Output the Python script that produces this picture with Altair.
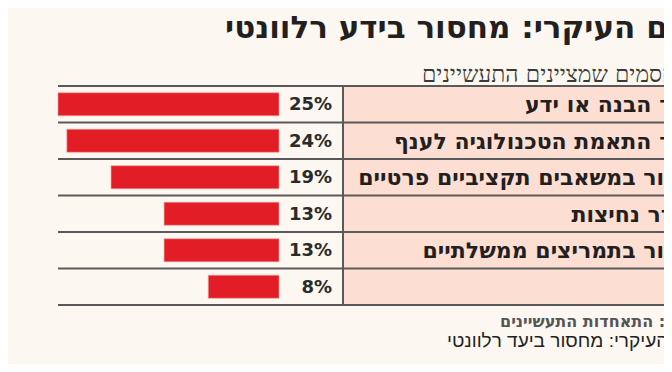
import altair as alt
import pandas as pd

# ---- data ----
categories = [
    "חוסר הבנה או ידע",
    "חוסר התאמת הטכנולוגיה לענף",
    "מחסור במשאבים תקציביים פרטיים",
    "היעדר נחיצות",
    "מחסור בתמריצים ממשלתיים",
    "אחר",
]
values = [25, 24, 19, 13, 13, 8]
row_lines = [0, 1, 2, 3, 4, 5, 6]

title_text = "החסם העיקרי: מחסור בידע רלוונטי"
subtitle_text = "באחוזים, החסמים שמציינים התעשיינים"
source_text = "נתונים: התאחדות התעשיינים"
caption_text = "החסם העיקרי: מחסור ביעד רלוונטי"

BG = "#FCF7F1"
PINK = "#FCDED2"
RED = "#E21D25"
DARK = "#231F20"
LINE = "#5A5A5A"

W, H = 656, 356

df = pd.DataFrame({"cat": categories, "val": values,
                   "pct": [f"{v}%" for v in values]})
lines_df = pd.DataFrame({"row": row_lines})
panel_df = pd.DataFrame({"r0": [0], "r1": [6]})

TOP, BOT = 78, 297
row_scale = alt.Scale(domain=[0, 6], range=[TOP, BOT])
band_scale = alt.Scale(domain=categories, range=[TOP, BOT],
                       paddingInner=0.37, paddingOuter=0.185)
x_scale = alt.Scale(domain=[0, 25], range=[271, 50])

panel = alt.Chart(panel_df).mark_rect(color=PINK).encode(
    x=alt.value(335), x2=alt.value(W),
    y=alt.Y("r0:Q", scale=row_scale, axis=None),
    y2="r1:Q",
)

hlines = alt.Chart(lines_df).mark_rule(color=LINE, strokeWidth=2).encode(
    x=alt.value(50), x2=alt.value(W),
    y=alt.Y("row:Q", scale=row_scale, axis=None),
)

vline = alt.Chart(panel_df).mark_rule(color=LINE, strokeWidth=2).encode(
    x=alt.value(335),
    y=alt.Y("r0:Q", scale=row_scale, axis=None),
    y2="r1:Q",
)

bars = alt.Chart(df).mark_bar(color=RED, stroke="#F0A0A0", strokeWidth=0.6).encode(
    x=alt.X("val:Q", scale=x_scale, axis=None),
    x2=alt.datum(0),
    y=alt.Y("cat:N", scale=band_scale, axis=None, sort=categories),
)

pct = alt.Chart(df).mark_text(
    align="right", baseline="middle", font="DejaVu Sans", fontWeight="bold",
    fontSize=18, color="#2A2A2A", dy=1,
).encode(
    x=alt.value(324),
    y=alt.Y("cat:N", scale=band_scale, axis=None, sort=categories),
    text="pct:N",
)

labels = alt.Chart(df).mark_text(
    align="right", baseline="middle", font="DejaVu Sans", fontWeight="bold",
    fontSize=22, color=DARK, dy=1,
).encode(
    x=alt.value(702),
    y=alt.Y("cat:N", scale=band_scale, axis=None, sort=categories),
    text="cat:N",
)

def txt(s, x, y, size, weight, color, font, align="left"):
    return alt.Chart(pd.DataFrame({"t": [s]})).mark_text(
        align=align, baseline="alphabetic", fontSize=size, fontWeight=weight,
        color=color, font=font,
    ).encode(x=alt.value(x), y=alt.value(y), text="t:N")

title = txt(title_text, 217, 30, 31, "bold", DARK, "DejaVu Sans")
subtitle = txt(subtitle_text, 414, 74, 23, 200, "#3A3A3A", "DejaVu Sans")
source = txt(source_text, 492, 319, 16, "bold", "#555555", "DejaVu Sans")
caption = txt(caption_text, 439, 339, 19, "normal", DARK, "Liberation Sans")

chart = alt.layer(
    panel, hlines, vline, bars, pct, labels, title, subtitle, source, caption
).resolve_scale(y="independent", x="independent").properties(
    width=W, height=H, background=BG, padding=0,
    autosize=alt.AutoSizeParams(type="none"),
).configure_view(stroke=None)

chart.save("out.html", embed_options={"renderer": "svg", "actions": False})
